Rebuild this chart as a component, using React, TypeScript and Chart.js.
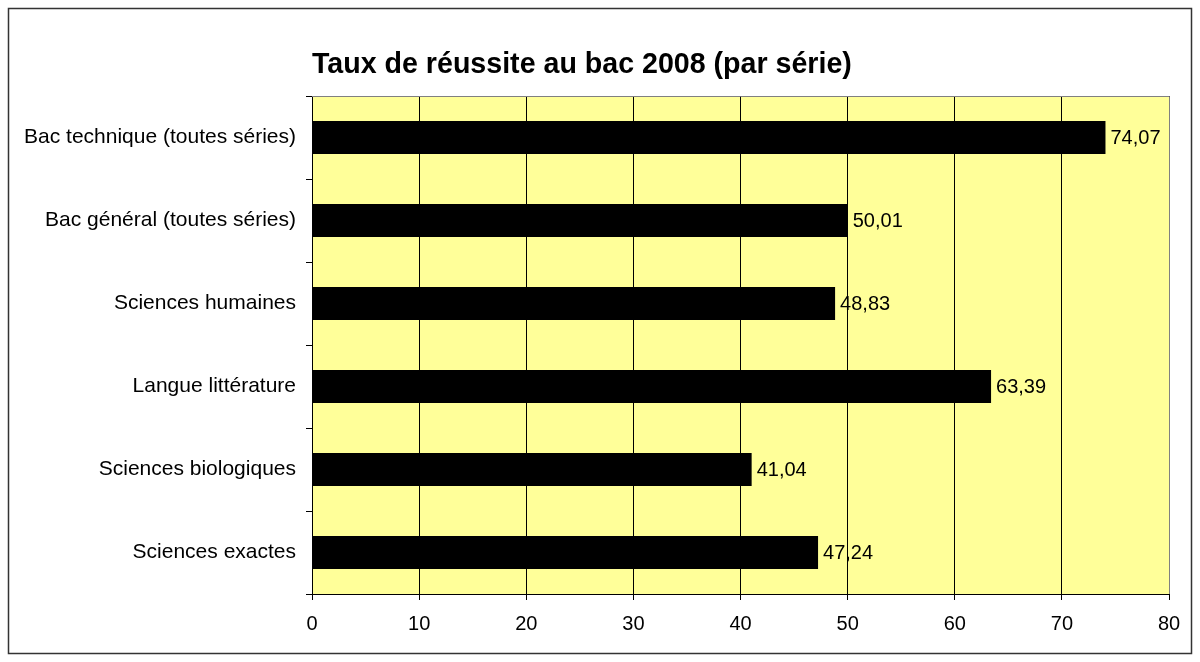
import React, { useEffect, useRef } from "react";
import { Chart, registerables } from "chart.js";

Chart.register(...registerables);

const TITLE = "Taux de réussite au bac 2008 (par série)";
const categories = [
  "Bac technique (toutes séries)",
  "Bac général (toutes séries)",
  "Sciences humaines",
  "Langue littérature",
  "Sciences biologiques",
  "Sciences exactes",
];
const values = [74.07, 50.01, 48.83, 63.39, 41.04, 47.24];
const xTicks = [0, 10, 20, 30, 40, 50, 60, 70, 80];

const FONT = "Arial, 'Liberation Sans', sans-serif";

const decor = {
  id: "decor",
  beforeDraw(chart: any) {
    const { ctx, chartArea: a } = chart;
    ctx.save();
    ctx.fillStyle = "#ffffff";
    ctx.fillRect(0, 0, chart.width, chart.height);
    ctx.fillStyle = "#FFFF99";
    ctx.fillRect(a.left, a.top, a.right - a.left, a.bottom - a.top);
    ctx.restore();
  },
  afterDraw(chart: any) {
    const { ctx, chartArea: a } = chart;
    ctx.save();
    ctx.strokeStyle = "#808080";
    ctx.lineWidth = 1;
    ctx.beginPath();
    ctx.moveTo(a.left, a.top + 0.5);
    ctx.lineTo(a.right + 0.5, a.top + 0.5);
    ctx.lineTo(a.right + 0.5, a.bottom);
    ctx.stroke();
    ctx.strokeStyle = "#333333";
    ctx.lineWidth = 1.5;
    ctx.strokeRect(8.5, 8.5, chart.width - 17, chart.height - 17);
    ctx.fillStyle = "#000";
    ctx.font = `bold 28.6px ${FONT}`;
    ctx.textAlign = "left";
    ctx.textBaseline = "middle";
    ctx.fillText(TITLE, a.left, 65);
    const meta = chart.getDatasetMeta(0);
    ctx.font = `20px ${FONT}`;
    ctx.fillStyle = "#000";
    meta.data.forEach((bar: any, i: number) => {
      const txt = values[i].toFixed(2).replace(".", ",");
      ctx.fillText(txt, bar.x + 5, bar.y + 1);
    });
    ctx.restore();
  },
};

export default function App() {
  const ref = useRef<HTMLCanvasElement>(null);
  useEffect(() => {
    document.body.style.margin = "0";
    const chart = new Chart(ref.current!, {
      type: "bar",
      data: {
        labels: categories,
        datasets: [
          {
            data: values,
            backgroundColor: "#000000",
            borderWidth: 0,
            barPercentage: 0.4,
            categoryPercentage: 1,
          },
        ],
      },
      options: {
        indexAxis: "y",
        animation: false,
        responsive: false,
        maintainAspectRatio: false,
        layout: { padding: { top: 96, left: 0, right: 31, bottom: 0 } },
        plugins: {
          legend: { display: false },
          tooltip: { enabled: false },
          title: { display: false },
        },
        scales: {
          x: {
            min: 0,
            max: 80,
            afterFit: (s: any) => {
              s.height = 68;
            },
            afterBuildTicks: (s: any) => {
              s.ticks = xTicks.map((v) => ({ value: v }));
            },
            grid: {
              color: "#000",
              lineWidth: 1,
              tickLength: 6,
              drawTicks: true,
            },
            border: { color: "#000", width: 1 },
            ticks: {
              color: "#000",
              font: { family: FONT, size: 20 },
              padding: 12,
            },
          },
          y: {
            afterFit: (s: any) => {
              s.width = 312;
            },
            grid: {
              offset: true,
              drawOnChartArea: false,
              drawTicks: true,
              tickLength: 6,
              color: "#000",
            },
            border: { color: "#000", width: 1 },
            ticks: {
              color: "#000",
              font: { family: FONT, size: 21 },
              padding: 10,
            },
          },
        },
      },
      plugins: [decor],
    });
    return () => chart.destroy();
  }, []);
  return (
    <div style={{ width: 1200, height: 662 }}>
      <canvas ref={ref} width={1200} height={662} style={{ display: "block" }} />
    </div>
  );
}
